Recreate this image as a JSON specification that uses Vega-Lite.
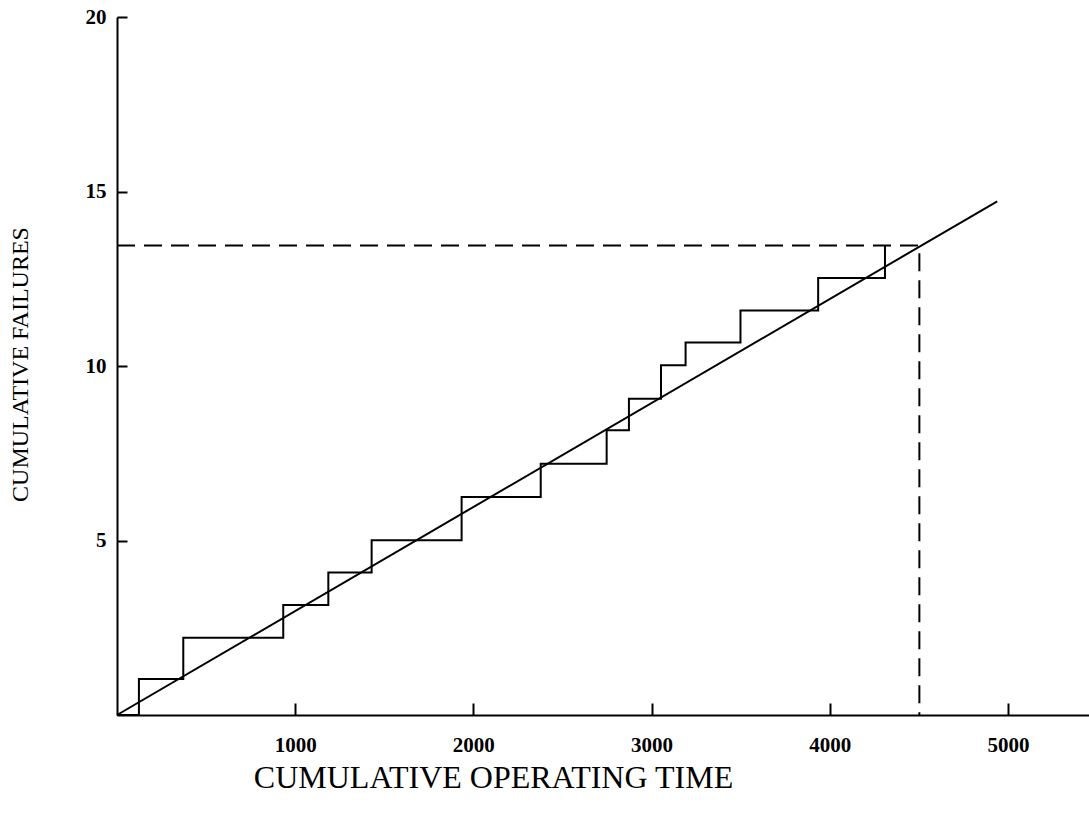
{
  "$schema": "https://vega.github.io/schema/vega-lite/v6.json",
  "width": 972,
  "height": 698,
  "autosize": "none",
  "padding": {"left": 117, "top": 17, "right": 0, "bottom": 101},
  "background": "white",
  "config": {
    "view": {"stroke": null},
    "font": "Liberation Serif",
    "axis": {
      "grid": false,
      "domainColor": "black",
      "domainWidth": 2,
      "tickColor": "black",
      "tickWidth": 2,
      "labelFont": "Liberation Serif",
      "labelFontSize": 21,
      "labelFontWeight": "bold",
      "labelColor": "black",
      "labelFlush": false,
      "labelOverlap": false,
      "titleFont": "Liberation Serif",
      "titleFontWeight": "normal",
      "titleColor": "black"
    }
  },
  "datasets": {
    "steps": [
      {"time": 0, "failures": 0},
      {"time": 123, "failures": 1.03},
      {"time": 372, "failures": 2.21},
      {"time": 933, "failures": 3.15},
      {"time": 1186, "failures": 4.08},
      {"time": 1429, "failures": 5.01},
      {"time": 1934, "failures": 6.25},
      {"time": 2378, "failures": 7.2},
      {"time": 2748, "failures": 8.16},
      {"time": 2873, "failures": 9.06},
      {"time": 3053, "failures": 10.02},
      {"time": 3191, "failures": 10.67},
      {"time": 3499, "failures": 11.59},
      {"time": 3935, "failures": 12.52},
      {"time": 4310, "failures": 13.45}
    ],
    "fit": [
      {"time": 0, "failures": 0},
      {"time": 4940, "failures": 14.72}
    ],
    "dashed": [
      {"time": 0, "failures": 13.45, "ord": 1},
      {"time": 4503, "failures": 13.45, "ord": 2},
      {"time": 4503, "failures": 0, "ord": 3}
    ]
  },
  "layer": [
    {
      "data": {"name": "steps"},
      "mark": {"type": "line", "interpolate": "step-after", "color": "black", "strokeWidth": 2},
      "encoding": {
        "x": {
          "field": "time", "type": "quantitative",
          "scale": {"domain": [0, 5455], "nice": false, "zero": true},
          "axis": {
            "title": "CUMULATIVE OPERATING TIME",
            "format": "d",
            "values": [1000, 2000, 3000, 4000, 5000],
            "tickSize": -12,
            "labelPadding": 31,
            "titleFontSize": 32,
            "titleX": 376,
            "titleY": 72,
            "titleAlign": "center",
            "titleBaseline": "alphabetic"
          }
        },
        "y": {
          "field": "failures", "type": "quantitative",
          "scale": {"domain": [0, 20], "nice": false},
          "axis": {
            "title": "CUMULATIVE FAILURES",
            "format": "d",
            "values": [5, 10, 15, 20],
            "tickSize": -10,
            "labelPadding": 21,
            "titleFontSize": 24,
            "titleX": -97,
            "titleY": 347,
            "titleAlign": "center",
            "titleBaseline": "middle",
            "titleAngle": -90
          }
        }
      }
    },
    {
      "data": {"name": "fit"},
      "mark": {"type": "line", "color": "black", "strokeWidth": 2},
      "encoding": {
        "x": {"field": "time", "type": "quantitative"},
        "y": {"field": "failures", "type": "quantitative"}
      }
    },
    {
      "data": {"name": "dashed"},
      "mark": {"type": "line", "color": "black", "strokeWidth": 2, "strokeDash": [18, 9]},
      "encoding": {
        "x": {"field": "time", "type": "quantitative"},
        "y": {"field": "failures", "type": "quantitative"},
        "order": {"field": "ord", "type": "quantitative"}
      }
    }
  ]
}
